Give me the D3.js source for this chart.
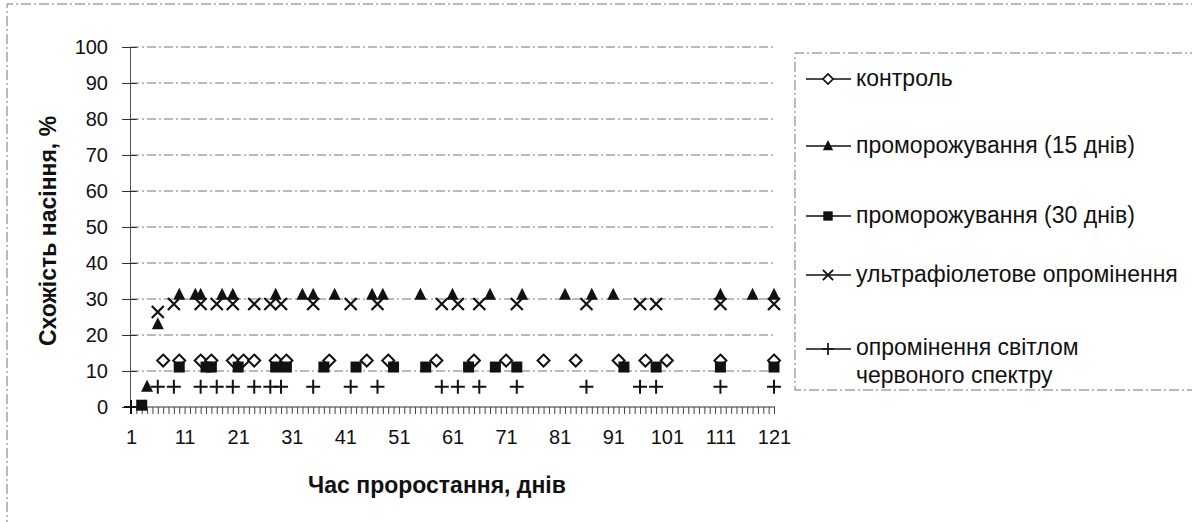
<!DOCTYPE html>
<html>
<head>
<meta charset="utf-8">
<script src="https://cdn.jsdelivr.net/npm/d3@7"></script>
<style>
  body { margin: 0; background: #fff; }
  text { font-family: "Liberation Sans", Arial, sans-serif; fill: #111; }
</style>
</head>
<body>
<script>
// categories on the x axis (days 1..121), labels every 10 days
var xTickLabels = [1, 11, 21, 31, 41, 51, 61, 71, 81, 91, 101, 111, 121];
var yTicks = [0, 10, 20, 30, 40, 50, 60, 70, 80, 90, 100];

// series: day -> value
var controlDays = [7, 10, 14, 16, 20, 22, 24, 28, 30, 38, 45, 49, 58, 65, 71, 78, 84, 92, 97, 101, 111, 121];
var controlVals = [12.9, 12.9, 12.9, 12.9, 12.9, 12.9, 12.9, 12.9, 12.9, 12.9, 12.9, 12.9, 12.9, 12.9, 12.9, 12.9, 12.9, 12.9, 12.9, 12.9, 12.9, 12.9];

var frost15Days = [4, 6, 10, 13, 14, 18, 20, 28, 33, 35, 39, 46, 48, 55, 61, 68, 74, 82, 87, 91, 111, 117, 121];
var frost15Vals = [5.6, 23, 31.2, 31.2, 31.2, 31.2, 31.2, 31.2, 31.2, 31.2, 31.2, 31.2, 31.2, 31.2, 31.2, 31.2, 31.2, 31.2, 31.2, 31.2, 31.2, 31.2, 31.2];

var frost30Days = [3, 10, 15, 16, 21, 28, 30, 37, 43, 50, 56, 64, 69, 73, 93, 99, 111, 121];
var frost30Vals = [0.5, 11.1, 11.1, 11.1, 11.1, 11.1, 11.1, 11.1, 11.1, 11.1, 11.1, 11.1, 11.1, 11.1, 11.1, 11.1, 11.1, 11.1];

var uvDays = [6, 9, 14, 17, 20, 24, 27, 29, 35, 42, 47, 59, 62, 66, 73, 86, 96, 99, 111, 121];
var uvVals = [26.4, 28.6, 28.6, 28.6, 28.6, 28.6, 28.6, 28.6, 28.6, 28.6, 28.6, 28.6, 28.6, 28.6, 28.6, 28.6, 28.6, 28.6, 28.6, 28.6];

var redDays = [1, 6, 9, 14, 17, 20, 24, 27, 29, 35, 42, 47, 59, 62, 66, 73, 86, 96, 99, 111, 121];
var redVals = [0, 5.6, 5.6, 5.6, 5.6, 5.6, 5.6, 5.6, 5.6, 5.6, 5.6, 5.6, 5.6, 5.6, 5.6, 5.6, 5.6, 5.6, 5.6, 5.6, 5.6];

var seriesNames = ["контроль", "проморожування (15 днів)", "проморожування (30 днів)",
                   "ультрафіолетове опромінення", "опромінення світлом червоного спектру"];

var W = 1192, H = 522;
var svg = d3.select("body").append("svg").attr("width", W).attr("height", H);

// outer chart border (scanned, dashed)
svg.append("path")
  .attr("d", "M7,530 L7,4 L1200,4")
  .attr("fill", "none").attr("stroke", "#777").attr("stroke-dasharray", "10,3,2,3");

var x = d3.scaleLinear().domain([1, 121]).range([131, 774]);
var y = d3.scaleLinear().domain([0, 100]).range([407, 47]);

// gridlines
svg.append("g").selectAll("line")
  .data(yTicks.filter(function(d) { return d > 0; }))
  .enter().append("line")
  .attr("x1", 130).attr("x2", 775)
  .attr("y1", function(d) { return y(d); }).attr("y2", function(d) { return y(d); })
  .attr("stroke", "#777").attr("stroke-width", 1)
  .attr("stroke-dasharray", "9,3,2,3");

// y axis
var yAxis = svg.append("g").attr("transform", "translate(130,0)")
  .call(d3.axisLeft(y).tickValues(yTicks).tickSize(8).tickPadding(14));
yAxis.select(".domain").attr("stroke", "#555");
yAxis.selectAll(".tick line").attr("x2", 7).attr("x1", -8).attr("stroke", "#333");
yAxis.selectAll(".tick text").style("font-size", "20px").attr("fill", "#111");

// x axis with a tick for every day
var allDays = d3.range(1, 122);
var xAxis = svg.append("g").attr("transform", "translate(0,407)")
  .call(d3.axisBottom(x).tickValues(allDays).tickSize(7).tickPadding(16)
    .tickFormat(function(d) { return xTickLabels.indexOf(d) >= 0 ? d : ""; }));
xAxis.select(".domain").attr("d", "M130,0H775").attr("stroke", "#333");
xAxis.selectAll(".tick line").attr("stroke", "#444");
xAxis.selectAll(".tick text").style("font-size", "20px").attr("fill", "#111");

// axis titles
svg.append("text").attr("x", 437).attr("y", 493).attr("text-anchor", "middle")
  .style("font-size", "23px").style("font-weight", "bold").text("Час проростання, днів");
svg.append("text").attr("transform", "translate(56,231) rotate(-90)").attr("text-anchor", "middle")
  .style("font-size", "23px").style("font-weight", "bold").text("Схожість насіння, %");

// marker drawing
function marker(g, kind) {
  if (kind === "diamond") {
    g.append("path").attr("d", "M0,-6L6,0L0,6L-6,0Z").attr("fill", "#fff").attr("stroke", "#111").attr("stroke-width", 2);
  } else if (kind === "triangle") {
    g.append("path").attr("d", "M0,-7L6,5L-6,5Z").attr("fill", "#111");
  } else if (kind === "square") {
    g.append("rect").attr("x", -5.5).attr("y", -5.5).attr("width", 11).attr("height", 11).attr("fill", "#111");
  } else if (kind === "cross") {
    g.append("path").attr("d", "M-6,-6L6,6M-6,6L6,-6").attr("stroke", "#111").attr("stroke-width", 2.2);
  } else if (kind === "plus") {
    g.append("path").attr("d", "M-7,0H7M0,-7V7").attr("stroke", "#111").attr("stroke-width", 2);
  }
}

var series = [
  {days: controlDays, vals: controlVals, kind: "diamond"},
  {days: frost15Days, vals: frost15Vals, kind: "triangle"},
  {days: frost30Days, vals: frost30Vals, kind: "square"},
  {days: uvDays, vals: uvVals, kind: "cross"},
  {days: redDays, vals: redVals, kind: "plus"}
];

var line = d3.line()
  .defined(function(d) { return d.v != null; })
  .x(function(d) { return x(d.day); })
  .y(function(d) { return y(d.v); });

series.forEach(function(s) {
  // full day table, blank days become gaps (as in the spreadsheet)
  var table = allDays.map(function(day) {
    var i = s.days.indexOf(day);
    return {day: day, v: i >= 0 ? s.vals[i] : null};
  });
  svg.append("path").datum(table).attr("d", line)
    .attr("fill", "none").attr("stroke", "#111").attr("stroke-width", 1.5);
  s.days.forEach(function(day, i) {
    var g = svg.append("g").attr("transform", "translate(" + x(day) + "," + y(s.vals[i]) + ")");
    marker(g, s.kind);
  });
});

// legend
var lg = svg.append("g");
lg.append("path").attr("d", "M1200,53 L795,53 L795,390 L1200,390")
  .attr("fill", "none").attr("stroke", "#777").attr("stroke-dasharray", "10,3,2,3");
var legendY = [79, 146, 216, 275, 349];
series.forEach(function(s, i) {
  var ly = legendY[i];
  lg.append("line").attr("x1", 806).attr("x2", 851).attr("y1", ly).attr("y2", ly)
    .attr("stroke", "#111").attr("stroke-width", 1.5);
  marker(lg.append("g").attr("transform", "translate(828," + ly + ") scale(0.85)"), s.kind);
});
var legendText = [[86, seriesNames[0]], [153, seriesNames[1]], [223, seriesNames[2]],
                  [282, seriesNames[3]], [355, "опромінення світлом"], [383, "червоного спектру"]];
legendText.forEach(function(t) {
  lg.append("text").attr("x", 856).attr("y", t[0]).style("font-size", "23px").text(t[1]);
});
</script>
</body>
</html>
